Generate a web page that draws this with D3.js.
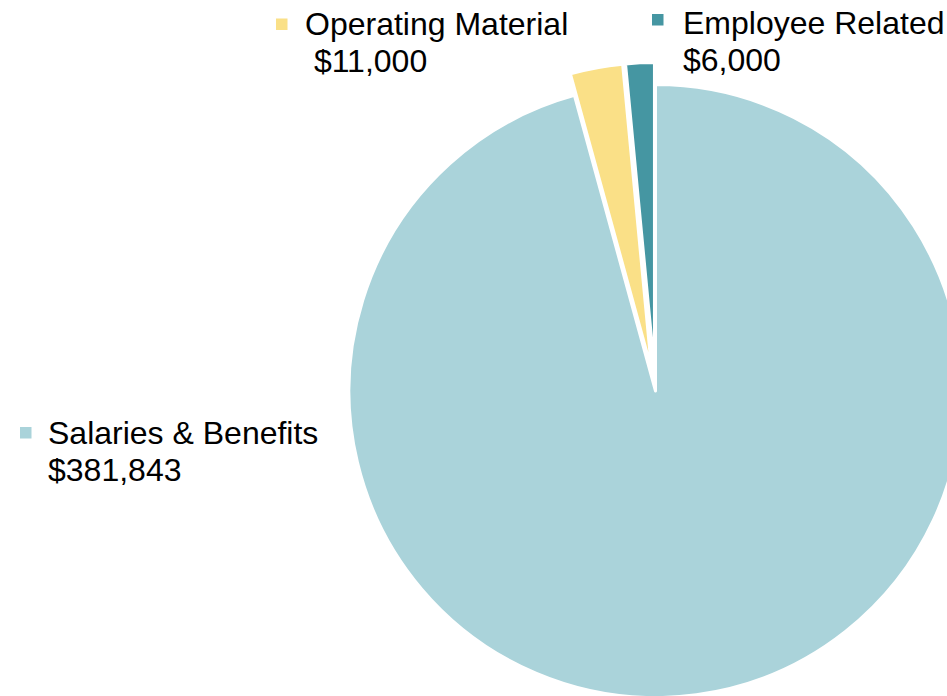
<!DOCTYPE html>
<html>
<head>
<meta charset="utf-8">
<script src="https://cdn.jsdelivr.net/npm/d3@7"></script>
<style>
  html, body { margin: 0; padding: 0; background: #fff; }
  svg { display: block; }
</style>
</head>
<body>
<svg id="chart" width="947" height="696"></svg>
<script>
// Budget breakdown by expense category
const categories = ["Salaries & Benefits", "Operating Material", "Employee Related"];
const amounts = [381843, 11000, 6000];
const exploded = [false, true, true];
const colors = ["#AAD3DA", "#FAE087", "#4596A2"];
// second-line prefix for each label
const valuePrefix = ["", " ", ""];

// Layout
const cx = 655.5, cy = 391, radius = 306.5, explodeDist = 22;
const fontSize = 32;
const labelLayout = [
  { sq: [20, 427], tx: 48, y1: 444, y2: 481 },
  { sq: [276, 18.5], tx: 305, y1: 35, y2: 71.5 },
  { sq: [652, 14], tx: 683, y1: 34, y2: 70.5 }
];

const data = categories.map((c, i) => ({
  name: c, value: amounts[i], color: colors[i], explode: exploded[i], prefix: valuePrefix[i]
}));

const svg = d3.select("#chart");
const pie = d3.pie().sort(null).value(d => d.value);
const arc = d3.arc().innerRadius(0).outerRadius(radius);

const g = svg.append("g").attr("transform", `translate(${cx},${cy})`);

g.selectAll("path.slice")
  .data(pie(data))
  .join("path")
  .attr("class", "slice")
  .attr("d", arc)
  .attr("fill", d => d.data.color)
  .attr("stroke", "#fff")
  .attr("stroke-width", 3)
  .attr("stroke-linejoin", "round")
  .attr("transform", d => {
    if (!d.data.explode) return null;
    const mid = (d.startAngle + d.endAngle) / 2;
    return `translate(${Math.sin(mid) * explodeDist},${-Math.cos(mid) * explodeDist})`;
  });

const fmt = d3.format("$,");

const labels = svg.selectAll("g.label")
  .data(data)
  .join("g")
  .attr("class", "label");

labels.append("rect")
  .attr("x", (d, i) => labelLayout[i].sq[0])
  .attr("y", (d, i) => labelLayout[i].sq[1])
  .attr("width", 11.5)
  .attr("height", 11.5)
  .attr("fill", d => d.color);

labels.append("text")
  .attr("x", (d, i) => labelLayout[i].tx)
  .attr("y", (d, i) => labelLayout[i].y1)
  .attr("font-family", "'Liberation Sans', Arial, sans-serif")
  .attr("font-size", fontSize)
  .attr("fill", "#000")
  .text(d => d.name);

labels.append("text")
  .attr("x", (d, i) => labelLayout[i].tx)
  .attr("y", (d, i) => labelLayout[i].y2)
  .attr("font-family", "'Liberation Sans', Arial, sans-serif")
  .attr("font-size", fontSize)
  .attr("fill", "#000")
  .attr("xml:space", "preserve")
  .style("white-space", "pre")
  .text(d => d.prefix + fmt(d.value));
</script>
</body>
</html>
